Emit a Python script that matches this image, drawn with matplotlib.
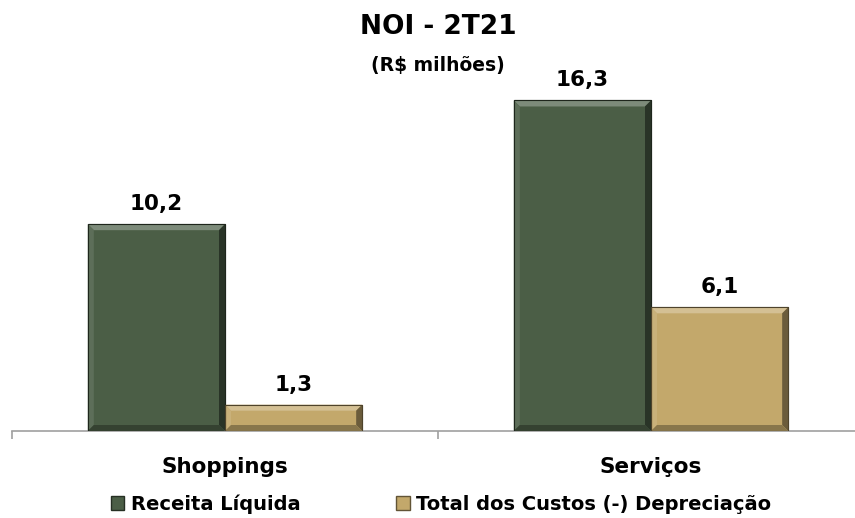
import matplotlib.pyplot as plt
import numpy as np
from matplotlib.patches import Polygon, Patch

categories = ["Shoppings", "Serviços"]
receita = [10.2, 16.3]
custos = [1.3, 6.1]
value_labels_receita = ["10,2", "16,3"]
value_labels_custos = ["1,3", "6,1"]
series_names = ["Receita Líquida", "Total dos Custos (-) Depreciação"]

GREEN = "#4b5e46"
TAN = "#c3a86b"

plt.rcParams['font.family'] = ['DejaVu Sans']

W, H = 855, 518
fig = plt.figure(figsize=(W / 100, H / 100), dpi=100)
# axes runs off the right edge, like the original chart area
ax = fig.add_axes([12 / W, 87 / H, 852 / W, (431 - 66) / H])
ax.set_xlim(-0.5, 1.5)
ax.set_ylim(0, 18)

x = np.arange(len(categories))
bw = 0.322


def shade(c, f):
    c = np.array(plt.matplotlib.colors.to_rgb(c))
    if f > 0:
        return tuple(c + (1 - c) * f)
    return tuple(c * (1 + f))


def bevel_bars(xs, vals, color):
    bars = ax.bar(xs, vals, bw, color=color, edgecolor=shade(color, -0.55), linewidth=0.8, zorder=2)
    # px -> data conversion for the bevel size
    px_x = 2.0 / 852
    px_y = 18.0 / 365
    b = 6
    for r in bars:
        x0, y0 = r.get_x(), r.get_y()
        x1, y1 = x0 + r.get_width(), y0 + r.get_height()
        dx, dy = b * px_x, min(b * px_y, r.get_height() / 3)
        ix0, ix1, iy0, iy1 = x0 + dx, x1 - dx, y0 + dy, y1 - dy
        faces = [
            ([(x0, y1), (x1, y1), (ix1, iy1), (ix0, iy1)], shade(color, 0.28)),
            ([(x0, y0), (x0, y1), (ix0, iy1), (ix0, iy0)], shade(color, 0.1)),
            ([(x1, y0), (x1, y1), (ix1, iy1), (ix1, iy0)], shade(color, -0.45)),
            ([(x0, y0), (x1, y0), (ix1, iy0), (ix0, iy0)], shade(color, -0.3)),
        ]
        for pts, fc in faces:
            ax.add_patch(Polygon(pts, closed=True, facecolor=fc, edgecolor="none", zorder=3))
        ax.add_patch(Polygon([(x0, y0), (x1, y0), (x1, y1), (x0, y1)], closed=True,
                             fill=False, edgecolor=shade(color, -0.6), linewidth=0.8, zorder=4))
    return bars


bevel_bars(x - bw / 2, receita, GREEN)
bevel_bars(x + bw / 2, custos, TAN)

for xi, v, lab in zip(x - bw / 2, receita, value_labels_receita):
    ax.text(xi, v + 0.5, lab, ha="center", va="bottom", fontsize=15.5, fontweight="bold")
for xi, v, lab in zip(x + bw / 2, custos, value_labels_custos):
    ax.text(xi, v + 0.5, lab, ha="center", va="bottom", fontsize=15.5, fontweight="bold")

for s in ["top", "right", "left"]:
    ax.spines[s].set_visible(False)
ax.spines["bottom"].set_color("#a0a0a0")
ax.spines["bottom"].set_linewidth(1.2)
ax.set_yticks([])
ax.set_xticks([-0.5, 0.5, 1.5], minor=False)
ax.set_xticklabels([])
ax.tick_params(axis="x", length=6, color="#a0a0a0", width=1.2, direction="out")
for xi, c in zip(x, categories):
    ax.text(xi, -1.3, c, ha="center", va="top", fontsize=15.5, fontweight="bold")

fig.text(438 / W, 1 - 27 / H, "NOI - 2T21", ha="center", va="center", fontsize=19, fontweight="bold")
fig.text(438 / W, 1 - 66 / H, "(R$ milhões)", ha="center", va="center", fontsize=13.5, fontweight="bold")

handles = [Patch(facecolor=GREEN, edgecolor=shade(GREEN, -0.5)),
           Patch(facecolor=TAN, edgecolor=shade(TAN, -0.5))]
fig.legend(handles, series_names, loc="center", bbox_to_anchor=(441 / W, 1 - 504 / H), ncol=2,
           frameon=False, prop={"weight": "bold", "size": 14}, handlelength=0.7, handleheight=0.7,
           handletextpad=0.35, columnspacing=4.9)

fig.savefig("out.png", dpi=100)
